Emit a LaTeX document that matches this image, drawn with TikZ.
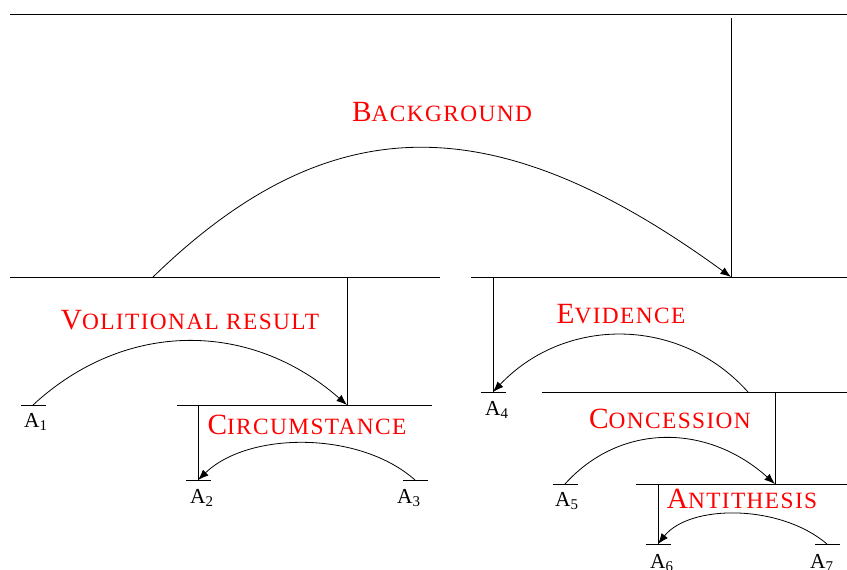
\documentclass[tikz,border=0pt]{standalone}
\usepackage{fontspec}
\setmainfont{Liberation Serif}
\usetikzlibrary{arrows.meta}

% fake small caps for the relation names
\newcommand{\relname}[2]{{\addfontfeature{LetterSpace=6}{\fontsize{22}{22}\selectfont #1}{\fontsize{17.5}{17.5}\selectfont #2}}}

\begin{document}
\begin{tikzpicture}[x=0.75pt, y=-0.75pt,
  span/.style={line width=0.6pt},
  relarc/.style={-{Latex[length=8pt,width=6pt]}, line width=0.6pt},
  relname/.style={text=red, inner sep=0pt},
  leaf/.style={font=\fontsize{16}{16}\selectfont, inner sep=0pt}
]
\useasboundingbox (0,0) rectangle (847,570);

% spans
\coordinate (topL) at (10,14);   \coordinate (topR) at (847,14);
\coordinate (leftL) at (10,277); \coordinate (leftR) at (440,277);
\coordinate (rightL) at (471,277); \coordinate (rightR) at (847,277);
\coordinate (circL) at (177,405); \coordinate (circR) at (432,405);
\coordinate (concL) at (542,392); \coordinate (concR) at (847,392);
\coordinate (antiL) at (636,484); \coordinate (antiR) at (847,484);
\draw[span] (topL) -- (topR);
\draw[span] (leftL) -- (leftR);
\draw[span] (rightL) -- (rightR);
\draw[span] (circL) -- (circR);
\draw[span] (concL) -- (concR);
\draw[span] (antiL) -- (antiR);

% leaves
\foreach \n/\x/\y in {1/33/405,2/198/480,3/415/480,4/493/392,5/565/484,6/658/544,7/827/544} {
  \coordinate (a\n) at (\x,\y);
  \draw[span] ([xshift=-9pt]a\n) -- ([xshift=10pt]a\n);
}
\node[leaf] (la1) at (36,422) {A\textsubscript{1}};
\node[leaf] (la2) at (202,498) {A\textsubscript{2}};
\node[leaf] (la3) at (409,498) {A\textsubscript{3}};
\node[leaf] (la4) at (497,410) {A\textsubscript{4}};
\node[leaf] (la5) at (567,501) {A\textsubscript{5}};
\node[leaf] (la6) at (662,563) {A\textsubscript{6}};
\node[leaf] (la7) at (822,563) {A\textsubscript{7}};

% nuclei
\coordinate (bgTop) at (731,18);  \coordinate (bgNuc) at (731,277);
\coordinate (volTop) at (347,277); \coordinate (volNuc) at (347,405);
\coordinate (circTop) at (198,405);
\coordinate (evTop) at (493,277);
\coordinate (concTop) at (775,392); \coordinate (concNuc) at (775,484);
\coordinate (antiTop) at (658,484);
\draw[span] (bgTop) -- (bgNuc);
\draw[span] (volTop) -- (volNuc);
\draw[span] (circTop) -- (a2);
\draw[span] (evTop) -- (a4);
\draw[span] (concTop) -- (concNuc);
\draw[span] (antiTop) -- (a6);

% satellites
\coordinate (bgSat) at (153,277);
\coordinate (evSat) at (748,392);

% relation arcs
\draw[relarc] (bgSat) .. controls (330,105) and (495,105) .. (bgNuc);
\draw[relarc] (a1) .. controls (125,320) and (250,320) .. (volNuc);
\draw[relarc] (a3) .. controls (360,431) and (249,431) .. (a2);
\draw[relarc] (evSat) .. controls (680,316) and (565,316) .. (a4);
\draw[relarc] (a5) .. controls (620,423) and (707,423) .. (concNuc);
\draw[relarc] (a7) .. controls (780,504) and (690,504) .. (a6);

% relation names
\node[relname] (bgName) at (442,112) {\relname{B}{ACKGROUND}};
\node[relname] (volName) at (190,320) {\relname{V}{OLITIONAL RESULT}};
\node[relname] (circName) at (307,425) {\relname{C}{IRCUMSTANCE}};
\node[relname] (evName) at (621,314) {\relname{E}{VIDENCE}};
\node[relname] (concName) at (670,419) {\relname{C}{ONCESSION}};
\node[relname] (antiName) at (742,499) {\relname{A}{NTITHESIS}};
\end{tikzpicture}
\end{document}
